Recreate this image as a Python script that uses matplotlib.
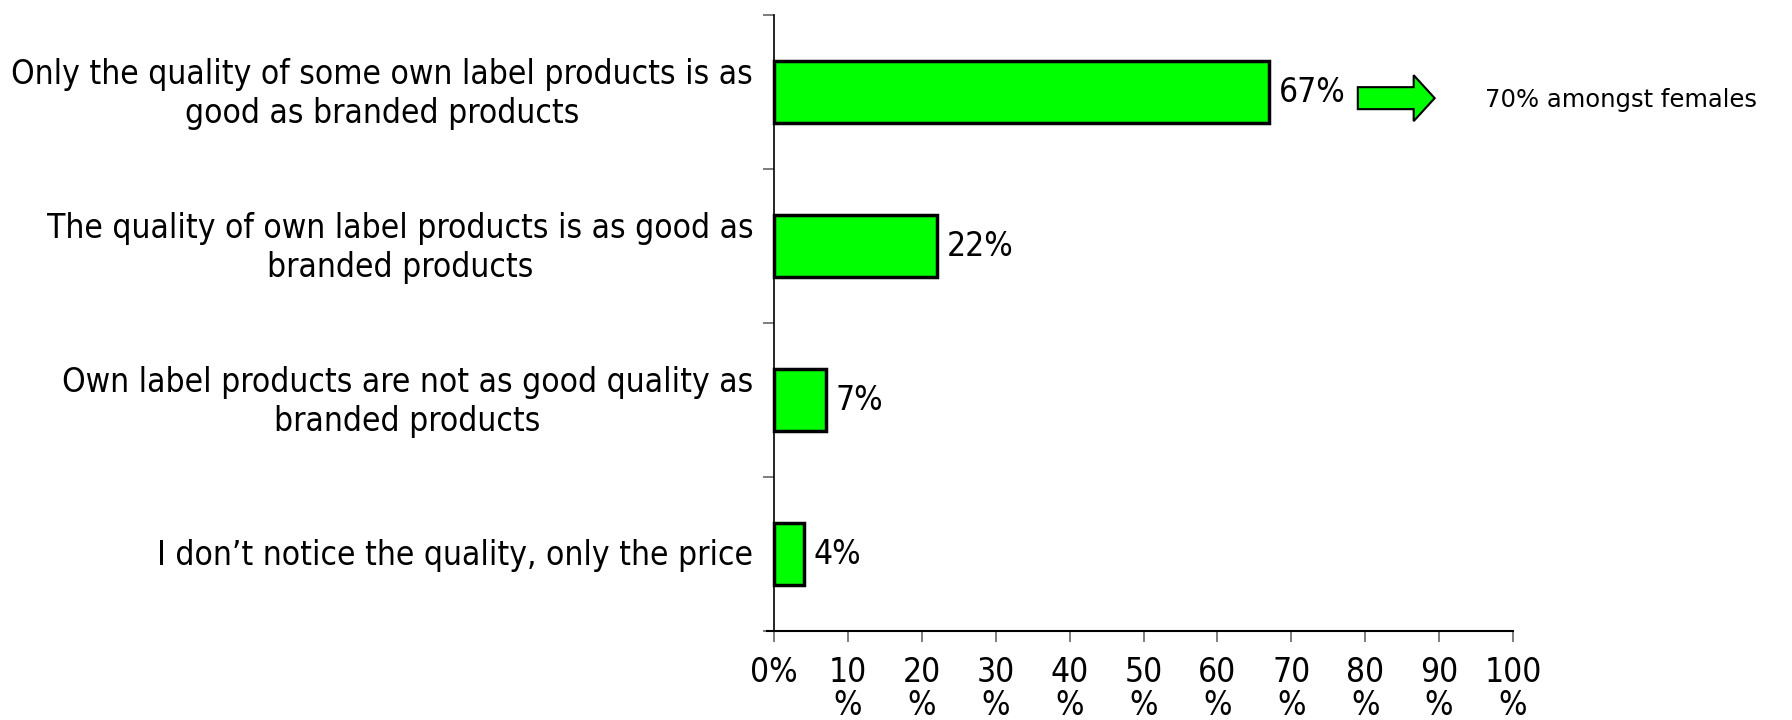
import matplotlib
matplotlib.use("Agg")
import matplotlib.pyplot as plt
from matplotlib.patches import FancyArrow
from matplotlib.ticker import FixedLocator
import matplotlib.transforms as mtransforms
from matplotlib import font_manager

categories = [
    "Only the quality of some own label products is as\ngood as branded products",
    "The quality of own label products is as good as\nbranded products",
    "Own label products are not as good quality as\nbranded products",
    "I don\u2019t notice the quality, only the price",
]
values = [67, 22, 7, 4]
value_labels = ["67%", "22%", "7%", "4%"]
x_ticks = [0, 10, 20, 30, 40, 50, 60, 70, 80, 90, 100]
x_tick_labels = ["0%", "10\n%", "20\n%", "30\n%", "40\n%", "50\n%", "60\n%",
                 "70\n%", "80\n%", "90\n%", "100\n%"]
callout_text = "70% amongst females"

font_names = [f.name for f in font_manager.fontManager.ttflist]
if "DejaVu Sans Condensed" in font_names:
    LABEL_FONT = dict(family="DejaVu Sans Condensed")
else:
    LABEL_FONT = dict(family="DejaVu Sans", stretch="condensed")

plt.rcParams['font.family'] = ['DejaVu Sans']
FS = 24

fig = plt.figure(figsize=(17.92, 7.2), dpi=100)
px_per = (1513 - 774) / 100.0
left_px = 774 - 7
ax = fig.add_axes([left_px / 1792, 1 - 631 / 720, (1513 - left_px) / 1792, (631 - 15) / 720])
ax.set_xlim(-7 / px_per, 100)
ax.set_ylim(3.5, -0.5)

ypos = list(range(len(categories)))
ax.barh(ypos, values, height=0.4, color="#00FF00", edgecolor="black", linewidth=2.5, zorder=3)

for y, v, lab in zip(ypos, values, value_labels):
    ax.text(v + 10 / px_per, y, lab, ha="left", va="center", fontsize=FS, color="black",
            **LABEL_FONT)

ax.add_patch(FancyArrow(79.0, 0.04, 10.4, 0, width=22 / 154, head_width=46 / 154,
                        head_length=21 / px_per, length_includes_head=True,
                        facecolor="#00FF00", edgecolor="black", linewidth=1.5,
                        clip_on=False, zorder=4))
ax.text(96.2, 0.05, callout_text, ha="left", va="center", fontsize=17.5, color="black",
        family="DejaVu Sans", clip_on=False)

for s in ["top", "right"]:
    ax.spines[s].set_visible(False)
ax.spines["left"].set_position(("data", 0))
ax.spines["left"].set_linewidth(1.2)
ax.spines["bottom"].set_linewidth(1.5)

ax.set_yticks(ypos)
ax.set_yticklabels(categories, fontsize=FS, multialignment="center", va="center", **LABEL_FONT)
ax.tick_params(axis="y", which="major", length=0, pad=20)
for lbl in ax.get_yticklabels():
    lbl.set_transform(lbl.get_transform() +
                      mtransforms.ScaledTranslation(7 / 100, -2 / 100, fig.dpi_scale_trans))
ax.yaxis.set_minor_locator(FixedLocator([-0.5, 0.5, 1.5, 2.5, 3.5]))
ax.tick_params(axis="y", which="minor", length=8, width=1.2, color="#666666", direction="out")

ax.set_xticks(x_ticks)
ax.set_xticklabels(x_tick_labels, fontsize=FS, va="top", ha="center", multialignment="center",
                   linespacing=1.0, **LABEL_FONT)
ax.tick_params(axis="x", which="major", length=8, width=1.2, color="#666666", pad=10)

fig.savefig("out.png", dpi=100)
